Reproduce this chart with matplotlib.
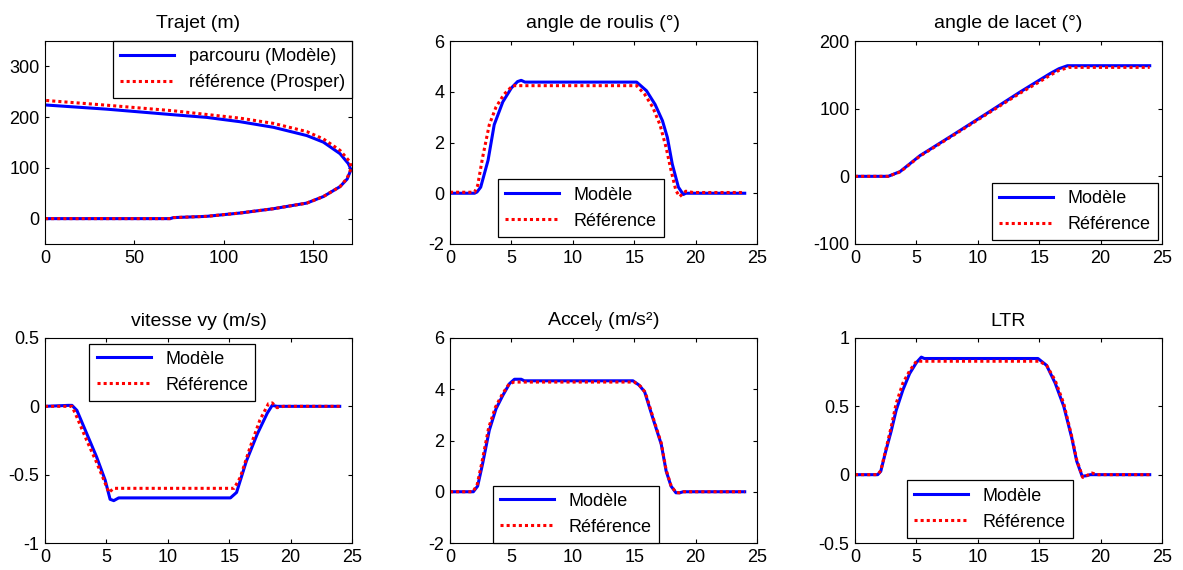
import numpy as np
import matplotlib
matplotlib.use('Agg')
import matplotlib.pyplot as plt

plt.rcParams['font.family'] = ['Liberation Sans', 'DejaVu Sans']
plt.rcParams['font.size'] = 13

# Trajet (m) : parcouru (Modele)
traj_mod_x = [0, 34.5, 60, 70, 71.8, 90.4, 109, 127.7, 146.4, 155.7, 165, 169, 171, 170.5, 169.6, 165, 155.7, 146.4, 127.7, 109, 90.4, 71.8, 34.5, 0]
traj_mod_y = [0, 0, 0, 0, 2, 4.5, 11, 19.5, 30.6, 43.5, 63, 78, 95.5, 102, 108.6, 128, 150.7, 163.7, 180, 191, 199.5, 204.7, 215.7, 224]
# reference (Prosper)
traj_ref_x = [0, 34.5, 60, 70, 71.8, 90.4, 109, 127.7, 146.4, 155.7, 165, 169, 171.2, 170.6, 165, 155.7, 146.4, 127.7, 109, 71.8, 34.5, 0]
traj_ref_y = [0, 0, 0, 0, 2, 4.5, 11, 19.5, 30.6, 43.5, 63, 80, 98.8, 111.7, 134.5, 157, 171.5, 187.7, 198, 212.5, 223.5, 233]

# angle de roulis
roul_mod_t = [0, 2.0, 2.2, 2.5, 3.1, 3.6, 4.3, 5.0, 5.5, 5.8, 6.1, 15.2, 16.0, 16.7, 17.3, 17.7, 18.1, 18.6, 19.0, 19.2, 24]
roul_mod = [0, 0, 0.05, 0.24, 1.3, 2.7, 3.6, 4.15, 4.4, 4.45, 4.38, 4.38, 4.04, 3.5, 2.86, 2.2, 1.15, 0.24, -0.05, 0, 0]
roul_ref_t = [0, 2.0, 2.25, 2.65, 3.2, 3.75, 4.4, 5.1, 15.2, 15.85, 16.5, 17.1, 17.6, 18.0, 18.4, 18.7, 19.2, 19.8, 24]
roul_ref = [0.04, 0.04, 0.3, 1.4, 2.7, 3.4, 3.9, 4.24, 4.24, 3.9, 3.4, 2.7, 1.8, 0.9, 0.1, -0.13, 0.08, 0.03, 0.03]

# angle de lacet
lac_mod_t = [0, 2.7, 3.67, 5.3, 8.0, 10.7, 13.45, 15.0, 15.9, 16.6, 17.3, 24]
lac_mod = [0, 0, 7, 30.7, 61.4, 92.6, 124.7, 142, 152, 159, 163.5, 163.5]
lac_ref_t = [0, 2.7, 3.67, 5.3, 8.0, 10.7, 13.45, 15.0, 15.9, 16.6, 17.4, 24]
lac_ref = [0, 0, 6.5, 30, 60.5, 91.5, 123, 139.5, 149.5, 156.5, 161, 161]

# vitesse vy
vy_mod_t = [0, 1.9, 2.2, 2.6, 3.4, 4.2, 4.9, 5.3, 5.6, 6.0, 15.1, 15.6, 16.4, 17.3, 18.1, 18.5, 18.9, 24]
vy_mod = [0, 0.007, 0.007, -0.03, -0.2, -0.37, -0.54, -0.68, -0.69, -0.67, -0.67, -0.63, -0.40, -0.2, -0.05, 0.007, 0, 0]
vy_ref_t = [0, 2.2, 2.6, 3.4, 4.2, 4.8, 5.2, 5.6, 15.4, 15.9, 16.7, 17.5, 18.2, 18.5, 18.9, 19.4, 24]
vy_ref = [0, 0, -0.08, -0.25, -0.41, -0.54, -0.63, -0.6, -0.6, -0.52, -0.3, -0.1, 0.02, 0.025, -0.01, 0, 0]

# Accel_y
acc_mod_t = [0, 1.9, 2.25, 2.65, 3.2, 3.75, 4.3, 4.85, 5.25, 5.8, 6.05, 14.9, 15.4, 15.85, 16.5, 17.2, 17.6, 18.0, 18.4, 18.7, 19.0, 24]
acc_mod = [0, 0, 0.22, 1.08, 2.4, 3.24, 3.76, 4.22, 4.39, 4.39, 4.33, 4.33, 4.16, 3.9, 2.9, 1.86, 0.81, 0.22, -0.04, -0.04, 0, 0]
acc_ref_t = [0, 1.85, 2.2, 2.6, 3.15, 3.7, 4.25, 4.8, 5.2, 15.0, 15.5, 15.9, 16.5, 17.2, 17.6, 18.0, 18.4, 18.7, 19.0, 24]
acc_ref = [0, 0, 0.25, 1.15, 2.5, 3.3, 3.8, 4.2, 4.28, 4.28, 4.12, 3.88, 2.95, 1.9, 0.85, 0.24, -0.03, -0.04, 0, 0]

# LTR
ltr_mod_t = [0, 1.85, 2.1, 2.5, 2.95, 3.35, 3.9, 4.45, 5.0, 5.4, 5.65, 14.9, 15.6, 16.3, 17.0, 17.65, 18.05, 18.5, 18.9, 19.15, 24]
ltr_mod = [0, 0, 0.025, 0.17, 0.32, 0.47, 0.62, 0.74, 0.82, 0.86, 0.85, 0.85, 0.80, 0.67, 0.5, 0.27, 0.1, -0.012, -0.007, 0, 0]
ltr_ref_t = [0, 1.85, 2.1, 2.5, 2.95, 3.35, 3.9, 4.45, 5.0, 15.0, 15.6, 16.3, 17.0, 17.65, 18.05, 18.55, 19.3, 19.7, 24]
ltr_ref = [0, 0, 0.03, 0.18, 0.35, 0.52, 0.67, 0.76, 0.83, 0.83, 0.80, 0.69, 0.52, 0.28, 0.11, -0.02, 0.012, 0, 0]

W, H = 1183, 570
fig = plt.figure(figsize=(W / 100, H / 100), dpi=100)

lefts = [45, 450, 855]
aw = 307
rows = [(41, 244), (338, 543)]


def make_ax(col, row):
    top, bot = rows[row]
    ax = fig.add_axes([lefts[col] / W, 1 - bot / H, aw / W, (bot - top) / H])
    ax.tick_params(direction='in', top=True, right=True, length=3, labelsize=13, pad=4)
    for s in ax.spines.values():
        s.set_linewidth(0.8)
    return ax


def add_legend(ax, loc, anchor):
    leg = ax.legend(loc=loc, bbox_to_anchor=anchor, borderaxespad=0, fontsize=13,
                    handlelength=3.0, fancybox=False, framealpha=1, borderpad=0.4)
    fr = leg.get_frame()
    fr.set_edgecolor('black')
    fr.set_linewidth(0.9)
    return leg


blue = dict(color='#0000ff', lw=2.2, ls='-')
red = dict(color='#ff0000', lw=2.2, ls=(0, (1, 1)))

# Trajet
ax = make_ax(0, 0)
ax.plot(traj_mod_x, traj_mod_y, label='parcouru (Modèle)', **blue)
ax.plot(traj_ref_x, traj_ref_y, label='référence (Prosper)', **red)
ax.set_xlim(0, 171.7)
ax.set_ylim(-50, 350)
ax.set_xticks([0, 50, 100, 150])
ax.set_yticks([0, 100, 200, 300])
ax.set_title('Trajet (m)', fontsize=14, pad=9)
add_legend(ax, 'upper right', (1.0, 1.0))

series = [
    (1, 0, roul_mod_t, roul_mod, roul_ref_t, roul_ref, 'angle de roulis (°)', (-2, 6), [-2, 0, 2, 4, 6], 'lower center', (0.426, 0.035)),
    (2, 0, lac_mod_t, lac_mod, lac_ref_t, lac_ref, 'angle de lacet (°)', (-100, 200), [-100, 0, 100, 200], 'lower right', (0.987, 0.018)),
    (0, 1, vy_mod_t, vy_mod, vy_ref_t, vy_ref, 'vitesse vy (m/s)', (-1, 0.5), [-1, -0.5, 0, 0.5], 'upper center', (0.415, 0.973)),
    (1, 1, acc_mod_t, acc_mod, acc_ref_t, acc_ref, 'Accel$_\\mathregular{y}$ (m/s²)', (-2, 6), [-2, 0, 2, 4, 6], 'lower center', (0.41, 0.0)),
    (2, 1, ltr_mod_t, ltr_mod, ltr_ref_t, ltr_ref, 'LTR', (-0.5, 1), [-0.5, 0, 0.5, 1], 'lower center', (0.44, 0.025)),
]

for col, row, tm, ym, tr, yr, title, ylim, yt, loc, anchor in series:
    ax = make_ax(col, row)
    ax.plot(tm, ym, label='Modèle', **blue)
    ax.plot(tr, yr, label='Référence', **red)
    ax.set_xlim(0, 25)
    ax.set_ylim(*ylim)
    ax.set_yticks(yt)
    ax.set_yticklabels([f'{v:g}' for v in yt])
    ax.set_xticks([0, 5, 10, 15, 20, 25])
    ax.set_title(title, fontsize=14, pad=9)
    add_legend(ax, loc, anchor)

fig.savefig('out.png', dpi=100)
